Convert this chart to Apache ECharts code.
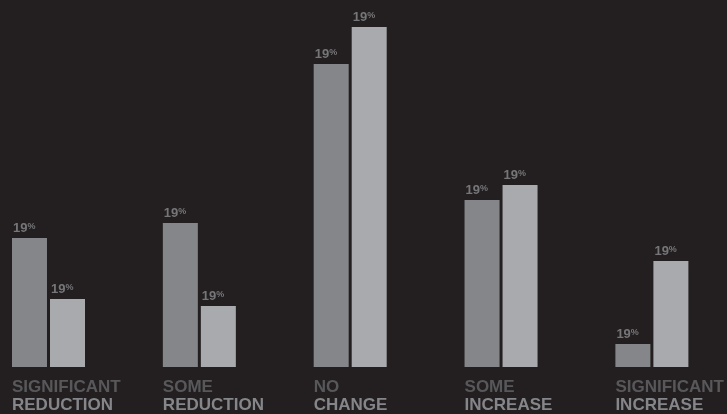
<!DOCTYPE html>
<html>
<head>
<meta charset="utf-8">
<script src="https://cdn.jsdelivr.net/npm/echarts@6/dist/echarts.min.js"></script>
<style>
  html, body { margin: 0; padding: 0; background: #231f20; }
  #chart { width: 727px; height: 414px; }
</style>
</head>
<body>
<div id="chart"></div>
<script>
// Category labels: first word (dim) and second word (bright)
const categoryTop = ['SIGNIFICANT', 'SOME', 'NO', 'SOME', 'SIGNIFICANT'];
const categoryBottom = ['REDUCTION', 'REDUCTION', 'CHANGE', 'INCREASE', 'INCREASE'];

// Bar values for the two series
const seriesA = [12.9, 14.4, 30.3, 16.7, 2.3];
const seriesB = [6.8, 6.1, 34.0, 18.2, 10.6];

// Text printed above each bar
const labelsA = ['19', '19', '19', '19', '19'];
const labelsB = ['19', '19', '19', '19', '19'];

const categories = categoryTop.map((t, i) => t + '\n' + categoryBottom[i]);

function valueLabel(texts) {
  return {
    show: true,
    position: [1, -3],
    align: 'left',
    verticalAlign: 'bottom',
    formatter: p => '{n|' + texts[p.dataIndex] + '}{p|%}',
    rich: {
      n: { fontFamily: 'Liberation Sans', fontWeight: 'bold', fontSize: 13, color: '#767679', lineHeight: 13, verticalAlign: 'bottom' },
      p: { fontFamily: 'Liberation Sans', fontWeight: 'bold', fontSize: 9, color: '#767679', lineHeight: 13, verticalAlign: 'top', padding: [0, 0, 4, 0] }
    }
  };
}

const chart = echarts.init(document.getElementById('chart'), null, { renderer: 'canvas' });
chart.setOption({
  backgroundColor: '#231f20',
  animation: false,
  grid: { left: 48.5, right: 70, top: 0, bottom: 47, containLabel: false },
  xAxis: {
    type: 'category',
    data: categories,
    boundaryGap: false,
    axisLine: { show: false },
    axisTick: { show: false },
    axisLabel: {
      interval: 0,
      margin: 11,
      align: 'center',
      width: 73,
      overflow: 'none',
      formatter: (v) => {
        const parts = v.split('\n');
        return '{a|' + parts[0] + '}\n{b|' + parts[1] + '}';
      },
      rich: {
        a: { align: 'left', fontFamily: 'Liberation Sans', fontWeight: 'bold', fontSize: 17, lineHeight: 18, color: '#58585b' },
        b: { align: 'left', fontFamily: 'Liberation Sans', fontWeight: 'bold', fontSize: 17, lineHeight: 18, color: '#85868a' }
      }
    }
  },
  yAxis: {
    type: 'value',
    min: 0,
    max: 36.7,
    show: false,
    splitLine: { show: false }
  },
  series: [
    {
      type: 'bar',
      data: seriesA,
      barWidth: 35,
      barGap: '8.6%',
      clip: false,
      itemStyle: { color: '#85868a' },
      label: valueLabel(labelsA)
    },
    {
      type: 'bar',
      data: seriesB,
      barWidth: 35,
      clip: false,
      itemStyle: { color: '#a9aaad' },
      label: valueLabel(labelsB)
    }
  ]
});
</script>
</body>
</html>
